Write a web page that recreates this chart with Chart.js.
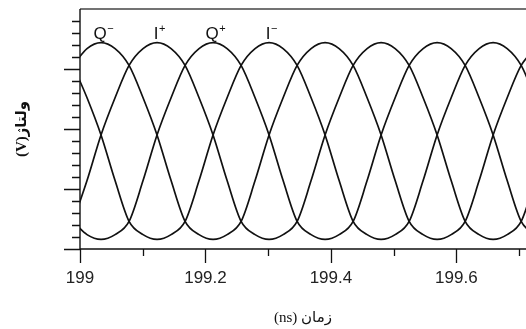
<!DOCTYPE html>
<html>
<head>
<meta charset="utf-8">
<script src="https://cdn.jsdelivr.net/npm/chart.js@4"></script>
<style>
  body { margin: 0; background: #fff; }
</style>
</head>
<body>
<canvas id="wave" width="526" height="329"></canvas>
<script>
// sample times (ns), one sample every 22.5 degrees of the clock phase
const times = [198.9889, 199.0112, 199.0335, 199.0559, 199.0782, 199.1005, 199.1228, 199.1452,
  199.1675, 199.1898, 199.2121, 199.2345, 199.2568, 199.2791, 199.3014, 199.3238,
  199.3461, 199.3684, 199.3907, 199.4131, 199.4354, 199.4577, 199.4800, 199.5024,
  199.5247, 199.5470, 199.5693, 199.5917, 199.6140, 199.6363, 199.6586, 199.6810,
  199.7033, 199.7256];

// the four clock phases
const qMinus = [15.3, 16.7, 17.2, 16.7, 15.3, 12.6, 9.5, 5.7, 2.3, 1.2, 0.8, 1.2, 2.3, 5.7, 9.5, 12.6,
  15.3, 16.7, 17.2, 16.7, 15.3, 12.6, 9.5, 5.7, 2.3, 1.2, 0.8, 1.2, 2.3, 5.7, 9.5, 12.6, 15.3, 16.7];
const iPlus = [2.3, 5.7, 9.5, 12.6, 15.3, 16.7, 17.2, 16.7, 15.3, 12.6, 9.5, 5.7, 2.3, 1.2, 0.8, 1.2,
  2.3, 5.7, 9.5, 12.6, 15.3, 16.7, 17.2, 16.7, 15.3, 12.6, 9.5, 5.7, 2.3, 1.2, 0.8, 1.2, 2.3, 5.7];
const qPlus = [2.3, 1.2, 0.8, 1.2, 2.3, 5.7, 9.5, 12.6, 15.3, 16.7, 17.2, 16.7, 15.3, 12.6, 9.5, 5.7,
  2.3, 1.2, 0.8, 1.2, 2.3, 5.7, 9.5, 12.6, 15.3, 16.7, 17.2, 16.7, 15.3, 12.6, 9.5, 5.7, 2.3, 1.2];
const iMinus = [15.3, 12.6, 9.5, 5.7, 2.3, 1.2, 0.8, 1.2, 2.3, 5.7, 9.5, 12.6, 15.3, 16.7, 17.2, 16.7,
  15.3, 12.6, 9.5, 5.7, 2.3, 1.2, 0.8, 1.2, 2.3, 5.7, 9.5, 12.6, 15.3, 16.7, 17.2, 16.7, 15.3, 12.6];

const curveLetters = ["Q", "I", "Q", "I"];
const curveSigns = ["\u2212", "+", "+", "\u2212"];
const labelLevel = 17.5;

const xMin = 199, xMax = 199.711;
const xStep = 0.1;
const yMin = 0, yMax = 20;

const series = [qMinus, iPlus, qPlus, iMinus];

function toPoints(arr) {
  return arr.map((v, i) => ({ x: times[i], y: v }));
}

// axes, tick marks and the curve names
const axisMarks = {
  id: "axisMarks",
  afterDraw(chart) {
    const { ctx, chartArea: a, scales: { x, y } } = chart;
    ctx.save();
    ctx.strokeStyle = "#444";
    ctx.lineWidth = 1.6;
    ctx.beginPath();
    ctx.moveTo(a.left, a.top);
    ctx.lineTo(a.right, a.top);
    ctx.stroke();

    ctx.strokeStyle = "#111";
    ctx.lineWidth = 1.4;
    ctx.beginPath();
    ctx.moveTo(a.left, a.top);
    ctx.lineTo(a.left, a.bottom);
    ctx.lineTo(a.right, a.bottom);
    ctx.stroke();

    ctx.lineWidth = 1.3;
    ctx.beginPath();
    y.ticks.forEach(t => {
      if (t.value >= yMax) return;
      const py = Math.round(y.getPixelForValue(t.value)) + 0.5;
      const len = t.value % 5 === 0 ? 16 : 8;
      ctx.moveTo(a.left - len, py);
      ctx.lineTo(a.left, py);
    });
    x.ticks.forEach(t => {
      if (t.value > xMax) return;
      const px = Math.round(x.getPixelForValue(t.value)) + 0.5;
      const len = Math.round(t.value * 10) % 2 === 0 ? 14 : 7;
      ctx.moveTo(px, a.bottom);
      ctx.lineTo(px, a.bottom + len);
    });
    ctx.stroke();

    ctx.fillStyle = "#111";
    ctx.textBaseline = "alphabetic";
    const py = y.getPixelForValue(labelLevel);
    series.forEach((arr, k) => {
      const peak = arr.indexOf(Math.max(...arr));
      const px = x.getPixelForValue(times[peak]) - 1;
      ctx.font = "17px 'Liberation Sans', Arial, sans-serif";
      const w = ctx.measureText(curveLetters[k]).width;
      ctx.textAlign = "left";
      ctx.fillText(curveLetters[k], px - w / 2, py);
      ctx.font = "11px 'Liberation Sans', Arial, sans-serif";
      ctx.fillText(curveSigns[k], px + w / 2 + 0.5, py - 7);
    });
    ctx.restore();
  }
};

new Chart(document.getElementById("wave"), {
  type: "line",
  data: {
    datasets: series.map(arr => ({
      data: toPoints(arr),
      borderColor: "#111",
      borderWidth: 1.7,
      pointRadius: 0,
      fill: false,
      cubicInterpolationMode: "monotone"
    }))
  },
  options: {
    responsive: false,
    animation: false,
    events: [],
    layout: { padding: { top: 9, right: 0, left: 0, bottom: 0 } },
    plugins: { legend: { display: false }, tooltip: { enabled: false } },
    scales: {
      x: {
        type: "linear",
        min: xMin,
        max: xMax,
        border: { display: false },
        grid: { display: false, drawTicks: true, tickLength: 14 },
        ticks: {
          stepSize: xStep,
          includeBounds: false,
          autoSkip: false,
          maxRotation: 0,
          padding: 5,
          color: "#222",
          font: { family: "'Liberation Sans', Arial, sans-serif", size: 17 },
          callback: v => (Math.round(v * 10) % 2 === 0 ? String(Math.round(v * 10) / 10) : "")
        },
        title: {
          display: true,
          text: "(ns) زمان",
          color: "#111",
          padding: { top: 0, bottom: 2 },
          font: { family: "'Liberation Serif', 'DejaVu Sans', serif", size: 15 }
        },
        afterFit: s => { s.height = 80; }
      },
      y: {
        min: yMin,
        max: yMax,
        border: { display: false },
        grid: { display: false },
        ticks: { display: false, stepSize: 1 },
        title: {
          display: true,
          text: "(V)ولتاژ",
          color: "#111",
          padding: { top: 13, bottom: 0 },
          font: { family: "'Liberation Serif', 'DejaVu Sans', serif", size: 15, weight: "bold" }
        },
        afterFit: s => { s.width = 80; }
      }
    }
  },
  plugins: [axisMarks]
});
</script>
</body>
</html>
